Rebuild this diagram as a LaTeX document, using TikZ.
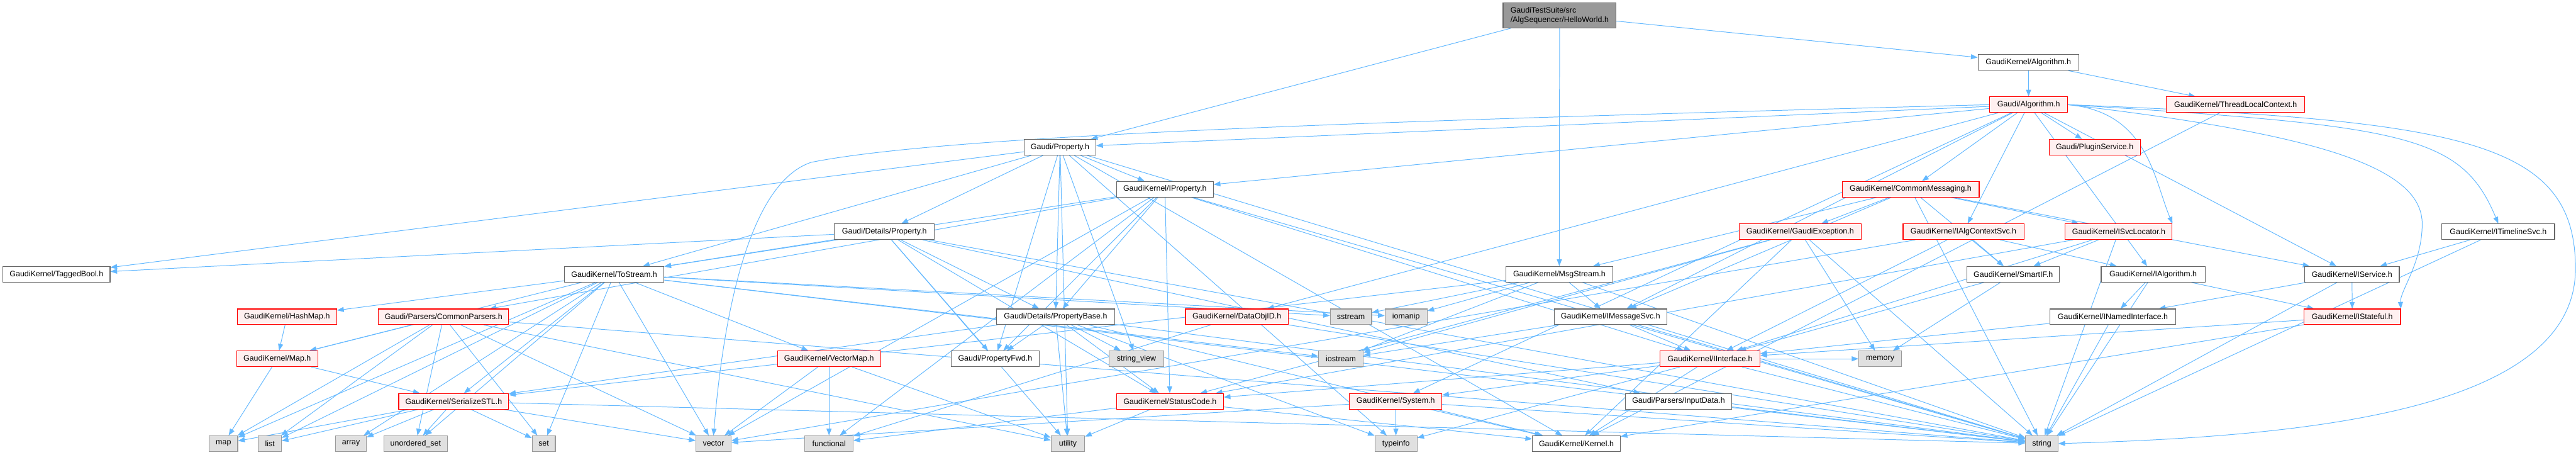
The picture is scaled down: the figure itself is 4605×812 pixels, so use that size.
\documentclass[tikz,border=0pt]{standalone}
\usepackage{fontspec}
\setmainfont{Liberation Sans}
\usetikzlibrary{arrows.meta}
\pgfdeclarelayer{bg}
\pgfsetlayers{bg,main}
\definecolor{edgec}{HTML}{63B8FF}
\definecolor{redfill}{HTML}{FFF0F0}
\definecolor{grayfill}{HTML}{E0E0E0}
\definecolor{grayline}{HTML}{999999}
\definecolor{darkline}{HTML}{666666}
\begin{document}
\begin{tikzpicture}[x=0.5pt,y=-0.5pt,
  box/.style={draw, line width=0.6pt, minimum height=14pt, inner xsep=2pt, inner ysep=0pt,
    font=\fontsize{7}{8.5}\selectfont, anchor=center},
  wn/.style={box, draw=darkline, fill=white},
  rn/.style={box, draw=red, fill=redfill},
  gn/.style={box, draw=grayline, fill=grayfill},
  hn/.style={box, draw=darkline, fill=grayline, align=left, minimum height=22.5pt},
  dep/.style={draw=edgec, line width=0.55pt, -{Triangle[length=6pt,width=4.5pt]}}]
\useasboundingbox (0,0) rectangle (4605,812);
% row 0-2
\node[hn, minimum width=101pt] (hw) at (2788,27.5) {GaudiTestSuite/src\\/AlgSequencer/HelloWorld.h};
\node[wn, minimum width=90pt] (gka) at (3626,111.7) {GaudiKernel/Algorithm.h};
\node[rn, minimum width=69.5pt] (ga) at (3626.5,187) {Gaudi/Algorithm.h};
\node[rn, minimum width=123.5pt] (tlc) at (3996.5,187) {GaudiKernel/ThreadLocalContext.h};
\node[wn, minimum width=64pt] (prop) at (1895,263) {Gaudi/Property.h};
\node[rn, minimum width=81.5pt] (plug) at (3744.5,263) {Gaudi/PluginService.h};
\node[wn, minimum width=86.5pt] (iprop) at (2082.5,338) {GaudiKernel/IProperty.h};
\node[rn, minimum width=122.5pt] (cmsg) at (3415.5,338) {GaudiKernel/CommonMessaging.h};
% row 414
\node[wn, minimum width=89.25pt] (dprop) at (1581,414) {Gaudi/Details/Property.h};
\node[rn, minimum width=109pt] (gexc) at (3218,414) {GaudiKernel/GaudiException.h};
\node[rn, minimum width=108pt] (iacs) at (3510,414) {GaudiKernel/IAlgContextSvc.h};
\node[rn, minimum width=95.5pt] (isvc) at (3787.5,414) {GaudiKernel/ISvcLocator.h};
\node[wn, minimum width=100.75pt] (itl) at (4466,414) {GaudiKernel/ITimelineSvc.h};
% row 490
\node[wn, minimum width=95.75pt] (tb) at (101,490) {GaudiKernel/TaggedBool.h};
\node[wn, minimum width=89pt] (ts) at (1098,490) {GaudiKernel/ToStream.h};
\node[wn, minimum width=95.3pt] (msg) at (2787.5,490) {GaudiKernel/MsgStream.h};
\node[wn, minimum width=82.75pt] (smart) at (3599,490) {GaudiKernel/SmartIF.h};
\node[wn, minimum width=92.85pt] (ialg) at (3849,490) {GaudiKernel/IAlgorithm.h};
\node[wn, minimum width=84.5pt] (iserv) at (4204.5,490) {GaudiKernel/IService.h};
% row 566
\node[rn, minimum width=89pt] (hmap) at (513,566) {GaudiKernel/HashMap.h};
\node[rn, minimum width=116.25pt] (cpars) at (793,566) {Gaudi/Parsers/CommonParsers.h};
\node[wn, minimum width=106pt] (pbase) at (1887,566) {Gaudi/Details/PropertyBase.h};
\node[rn, minimum width=91.75pt] (doid) at (2211,566) {GaudiKernel/DataObjID.h};
\node[gn, minimum width=37pt] (sstr) at (2415,566) {sstream};
\node[gn, minimum width=37.5pt] (iomp) at (2513.5,566) {iomanip};
\node[wn, minimum width=100.75pt] (imsg) at (2879,566) {GaudiKernel/IMessageSvc.h};
\node[wn, minimum width=112.8pt] (inamed) at (3777,566) {GaudiKernel/INamedInterface.h};
\node[rn, minimum width=86.25pt] (istate) at (4205,566) {GaudiKernel/IStateful.h};
% row 641
\node[rn, minimum width=72.5pt] (maph) at (495.5,641) {GaudiKernel/Map.h};
\node[rn, minimum width=92pt] (vmap) at (1482,641) {GaudiKernel/VectorMap.h};
\node[wn, minimum width=78.75pt] (pfwd) at (1779,641) {Gaudi/PropertyFwd.h};
\node[gn, minimum width=48.5pt] (sview) at (2031.5,641) {string\_view};
\node[gn, minimum width=39.8pt] (iostr) at (2397,641) {iostream};
\node[rn, minimum width=89.25pt] (iint) at (3057,641) {GaudiKernel/IInterface.h};
\node[gn, minimum width=38.25pt] (mem) at (3361,641) {memory};
% row 717
\node[rn, minimum width=98.25pt] (sstl) at (811,717) {GaudiKernel/SerializeSTL.h};
\node[rn, minimum width=95.5pt] (sc) at (2091.5,717) {GaudiKernel/StatusCode.h};
\node[rn, minimum width=82.5pt] (sys) at (2495,717) {GaudiKernel/System.h};
\node[wn, minimum width=95pt] (inp) at (3000.6,717) {Gaudi/Parsers/InputData.h};
% row 792
\node[gn, minimum width=25.5pt] (smap) at (399.5,792.5) {map};
\node[gn, minimum width=20.5pt] (slist) at (482.5,792.5) {list};
\node[gn, minimum width=27.5pt] (sarr) at (627.5,792.5) {array};
\node[gn, minimum width=57pt] (suset) at (743,792.5) {unordered\_set};
\node[gn, minimum width=20.75pt] (sset) at (972,792.5) {set};
\node[gn, minimum width=31.5pt] (svec) at (1275.5,792.5) {vector};
\node[gn, minimum width=43pt] (sfunc) at (1482,792.5) {functional};
\node[gn, minimum width=30pt] (sutil) at (1909,792.5) {utility};
\node[gn, minimum width=37.5pt] (stype) at (2495.5,792.5) {typeinfo};
\node[wn, minimum width=78.5pt] (kern) at (2818,792.5) {GaudiKernel/Kernel.h};
\node[gn, minimum width=29pt] (sstring) at (3650,792.5) {string};

\begin{pgfonlayer}{bg}
\foreach \a/\b in {hw/prop, hw/gka, hw/msg, gka/ga, gka/tlc, tlc/kern,
  ga/prop, ga/iprop, ga/plug, ga/cmsg, ga/iacs, ga/ialg, ga/iserv,
  ga/doid, ga/imsg, ga/sys,
  cmsg/msg, cmsg/imsg, cmsg/gexc, cmsg/isvc, cmsg/smart, cmsg/iserv, cmsg/sstring,
  prop/dprop, prop/pbase, prop/iprop, prop/tb, prop/ts, prop/pfwd, prop/sutil, prop/sview,
  prop/kern, prop/sstring, prop/stype,
  iprop/ts, iprop/cpars, iprop/pfwd, iprop/pbase, iprop/sc, iprop/iint, iprop/sstring,
  iprop/sfunc, iprop/svec,
  dprop/tb, dprop/ts, dprop/pbase, dprop/pfwd, dprop/inp, dprop/sc, dprop/sutil, dprop/sstring,
  ts/smap, ts/slist, ts/sarr, ts/suset, ts/hmap, ts/maph, ts/sstl, ts/sset, ts/svec, ts/vmap,
  ts/sstr, ts/iomp, ts/iostr, ts/sstring,
  hmap/maph, maph/smap, maph/sstl,
  cpars/maph, cpars/smap, cpars/slist, cpars/suset, cpars/sset, cpars/svec, cpars/sstring, cpars/sutil,
  sstl/smap, sstl/slist, sstl/sarr, sstl/suset, sstl/sset, sstl/svec, sstl/sstring,
  vmap/svec, vmap/sfunc, vmap/sutil,
  pbase/pfwd, pbase/sview, pbase/sstl, pbase/sc, pbase/sstring, pbase/sutil, pbase/stype, pbase/kern,
  doid/sfunc, doid/sstring,
  sc/sutil, sc/sfunc, sc/kern,
  msg/imsg, msg/sstl, msg/sstr, msg/iomp, msg/iostr, msg/sstring,
  imsg/iostr, imsg/sstring, imsg/iint,
  iint/sc, iint/kern, iint/stype, iint/sys, iint/mem, iint/sstring,
  sys/stype, sys/kern, sys/sstring, sys/svec,
  inp/sstring,
  gexc/sc, gexc/kern, gexc/sstring, gexc/mem, gexc/iostr,
  smart/iint, smart/mem,
  isvc/iint, isvc/smart, isvc/sstring, isvc/sc,
  iacs/iint, iacs/smart, iacs/ialg, iacs/svec,
  ialg/inamed, ialg/istate, ialg/sstring,
  iserv/inamed, iserv/istate, iserv/sstring,
  istate/iint, istate/kern,
  inamed/iint, inamed/sstring,
  itl/iserv, itl/sstring}
  {\draw[dep] (\a) -- (\b);}
% curved routes of the reference
\draw[dep] (ga.east) .. controls (4300,225) and (4400,240) .. (itl.north);
\draw[dep] (ga.east) .. controls (4400,215) and (4604,250) .. (4604,480)
  .. controls (4604,740) and (4100,780) .. (sstring.east);
\draw[dep] (ga.east) .. controls (3840,200) and (3850,320) .. (isvc.north east);
\draw[dep] (ga.east) .. controls (4150,240) and (4330,300) .. (4330,400)
  .. controls (4330,470) and (4290,520) .. (istate.north east);
\draw[dep] (ga.west) .. controls (2500,215) and (1700,240) .. (1450,290)
  .. controls (1330,330) and (1290,600) .. (svec.north);
\end{pgfonlayer}
\end{tikzpicture}
\end{document}
